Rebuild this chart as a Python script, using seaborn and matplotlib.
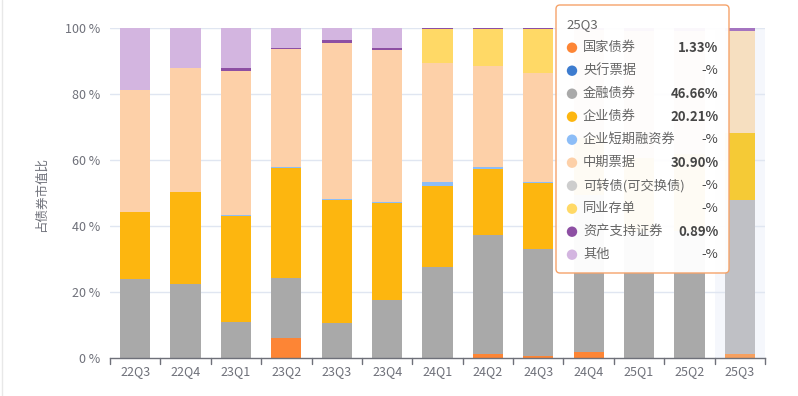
import matplotlib
matplotlib.use("Agg")
import matplotlib.pyplot as plt
from matplotlib.patches import FancyBboxPatch, Circle
from matplotlib.transforms import IdentityTransform
import seaborn as sns
import pandas as pd
import numpy as np

# ---------------- data ----------------
quarters = ['22Q3', '22Q4', '23Q1', '23Q2', '23Q3', '23Q4', '24Q1', '24Q2', '24Q3',
            '24Q4', '25Q1', '25Q2', '25Q3']
series_names = ['国家债券', '央行票据', '金融债券', '企业债券', '企业短期融资券',
                '中期票据', '可转债(可交换债)', '同业存单', '资产支持证券', '其他']
guojia = [0, 0, 0, 6.1, 0, 0, 0, 1.2, 0.8, 2.0, 0, 0, 1.33]
yanghang = [0, 0, 0, 0, 0, 0, 0, 0, 0, 0, 0, 0, 0]
jinrong = [23.9, 22.5, 10.9, 18.3, 10.6, 17.5, 27.6, 36.1, 32.4, 47.5, 38.6, 38.5, 46.66]
qiye = [20.5, 27.7, 32.2, 33.1, 37.3, 29.4, 24.7, 20.0, 19.8, 17.3, 22.1, 23.5, 20.21]
duanrong = [0, 0, 0.4, 0.3, 0.3, 0.3, 1.2, 0.5, 0.5, 0, 0, 0, 0]
zhongqi = [36.9, 37.8, 43.6, 35.7, 47.3, 46.2, 35.9, 30.8, 32.9, 32.7, 38.3, 37.0, 30.90]
kezhuan = [0, 0, 0, 0, 0, 0, 0, 0, 0, 0, 0, 0, 0]
tongye = [0, 0, 0, 0, 0, 0, 10.3, 11.2, 13.3, 0, 0, 0, 0]
abs_ = [0, 0, 0.7, 0.5, 0.8, 0.5, 0.3, 0.2, 0.3, 0.5, 1.0, 1.0, 0.89]
qita = [18.7, 12.0, 12.2, 6.0, 3.7, 6.1, 0, 0, 0, 0, 0, 0, 0]
series_values = [guojia, yanghang, jinrong, qiye, duanrong, zhongqi, kezhuan, tongye, abs_, qita]

tooltip_title = '25Q3'
tooltip_values = ['1.33%', '-%', '46.66%', '20.21%', '-%', '30.90%', '-%', '-%', '0.89%', '-%']
y_ticks = [0, 20, 40, 60, 80, 100]
y_label = '占债券市值比'

# ---------------- styles ----------------
colors = ['#fd8535', '#3d7ccf', '#a9a9a9', '#fdb60f', '#8cbdf7',
          '#fdd0a8', '#cdcdcd', '#ffd966', '#8d4fa3', '#d3b5e0']
hl_colors = ['#f6a060', '#7aa4dc', '#bfc0c5', '#f5ca36', '#b2d0f5',
             '#f6dfc0', '#dadbdf', '#f7dd85', '#a474c0', '#dcc6e6']
hl_index = quarters.index(tooltip_title)

sns.set_theme(style='white')
plt.rcParams['font.family'] = ['Noto Sans CJK SC', 'DejaVu Sans']

W, H = 798, 396
fig = plt.figure(figsize=(W / 100, H / 100), dpi=100)
ax_left, ax_right, ax_top, ax_bot = 110, 765, 28, 358.3
ax = fig.add_axes([ax_left / W, 1 - ax_bot / H, (ax_right - ax_left) / W, (ax_bot - ax_top) / H])

# long dataframe with cumulative sums
rows = []
for si, (name, vals) in enumerate(zip(series_names, series_values)):
    for qi, q in enumerate(quarters):
        rows.append(dict(quarter=q, series=name, si=si, value=vals[qi]))
df = pd.DataFrame(rows)
df['cum'] = df.groupby('quarter')['value'].cumsum()

ax.axvspan(hl_index - 0.5, hl_index + 0.5, color='#f5f7fc', zorder=0.5, lw=0)
for y in y_ticks[1:]:
    ax.axhline(y, color='#e0e6f1', lw=1, zorder=0.6)

# draw from top layer down (overlapping cumulative bars)
for si in reversed(range(len(series_names))):
    sub = df[df['si'] == si]
    if sub['value'].sum() == 0:
        continue
    pal = {q: (hl_colors[si] if q == tooltip_title else colors[si]) for q in quarters}
    sub = sub.copy()
    sub.loc[sub['value'] <= 0, 'cum'] = 0
    sns.barplot(data=sub, x='quarter', y='cum', hue='quarter', palette=pal, order=quarters,
                hue_order=quarters, legend=False, width=0.6, saturation=1, ax=ax,
                linewidth=0, edgecolor='none', errorbar=None, zorder=2)

ax.set_xlim(-0.5, len(quarters) - 0.5)
ax.set_ylim(0, 100)
ax.set_xlabel('')
ax.set_ylabel('')
for s in ['top', 'right', 'left']:
    ax.spines[s].set_visible(False)
ax.spines['bottom'].set_color('#6e7079')
ax.spines['bottom'].set_linewidth(1)
ax.spines['bottom'].set_zorder(5)

ax.set_yticks(y_ticks)
ax.set_yticklabels([f'{v} %' for v in y_ticks], color='#6e7079', fontsize=9)
ax.tick_params(axis='y', length=0, pad=7)
ax.set_xticks(range(len(quarters)))
ax.set_xticklabels(quarters, color='#6e7079', fontsize=9)
ax.tick_params(axis='x', length=0, pad=5)
for b in np.arange(-0.5, len(quarters), 1.0):
    ax.plot([b, b], [0, -1.6], color='#6e7079', lw=1, clip_on=False, zorder=5)

fig.text(41 / W, 1 - 195 / H, y_label, rotation=90, ha='center', va='center',
         color='#6e7079', fontsize=9)

fig.add_artist(plt.Line2D([1.5 / W, 1.5 / W], [0, 1], color='#e8e8e8', lw=1))

# ---------------- tooltip ----------------
def px(x, y):
    return (x, H - y)

bx0, by0, bx1, by1 = 556, 5, 729, 273
box = FancyBboxPatch(px(bx0, by1), bx1 - bx0, by1 - by0,
                     boxstyle='round,pad=0,rounding_size=4',
                     transform=IdentityTransform(), facecolor='white', alpha=0.96,
                     edgecolor='none', zorder=10)
fig.add_artist(box)
border = FancyBboxPatch(px(bx0, by1), bx1 - bx0, by1 - by0,
                        boxstyle='round,pad=0,rounding_size=4',
                        transform=IdentityTransform(), facecolor='none',
                        edgecolor='#f5a36a', lw=1, zorder=11)
fig.add_artist(border)

fig.text(566 / W, 1 - 25 / H, tooltip_title, ha='left', va='center', color='#666666',
         fontsize=9.5, zorder=12)
for i, (name, val) in enumerate(zip(series_names, tooltip_values)):
    yc = 47.7 + i * 23.0
    c = Circle(px(572, yc), 5.2, transform=IdentityTransform(), facecolor=colors[i],
               edgecolor='none', zorder=12)
    fig.add_artist(c)
    fig.text(583 / W, 1 - yc / H, name, ha='left', va='center', color='#666666',
             fontsize=9.5, zorder=12)
    fig.text(718.5 / W, 1 - yc / H, val, ha='right', va='center', color='#464646',
             fontsize=9.5, fontweight='bold' if val != '-%' else 'normal', zorder=12)

fig.savefig('out.png', dpi=100)
